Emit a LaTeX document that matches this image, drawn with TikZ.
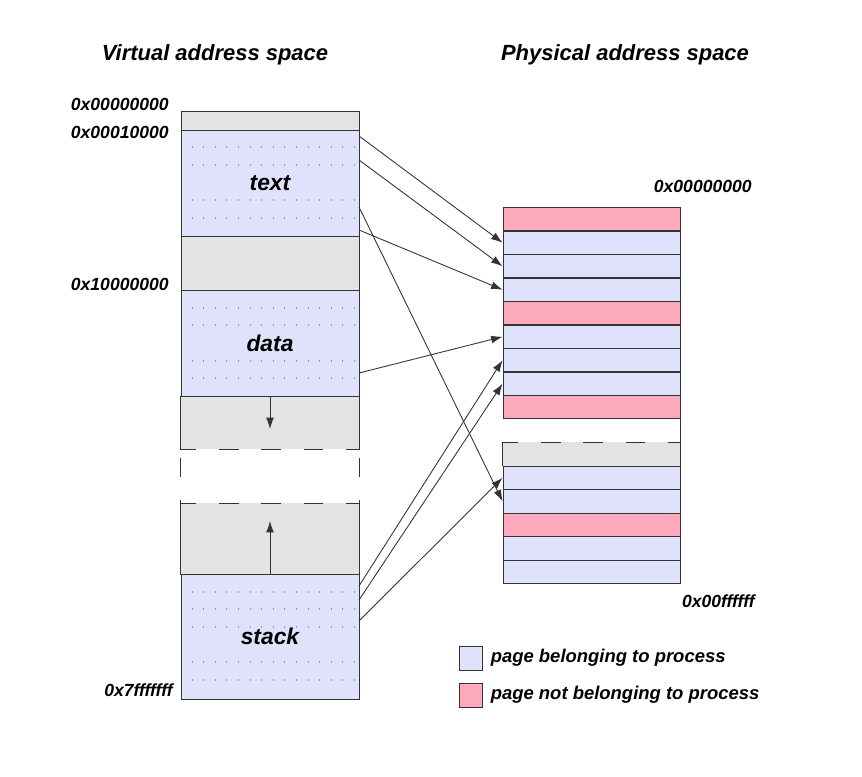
\documentclass[tikz,border=0pt]{standalone}
\usepackage{fontspec}
\setmainfont{Liberation Sans}
\usetikzlibrary{arrows.meta,positioning}
\definecolor{PageOwn}{HTML}{E0E2FB}
\definecolor{PageOther}{HTML}{FDAABC}
\definecolor{PageFree}{HTML}{E3E3E3}
\definecolor{PageLine}{HTML}{333333}
\definecolor{DotGrey}{HTML}{9A9AA8}

\begin{document}
\begin{tikzpicture}[x=0.02cm,y=-0.02cm]
    \tikzset{hexlbl/.style={font=\fontsize{10}{12}\selectfont\bfseries\itshape,inner sep=0pt},
      title/.style={font=\fontsize{12.5}{15}\selectfont\bfseries\itshape,inner sep=0pt},
      seglbl/.style={font=\fontsize{13}{15}\selectfont\bfseries\itshape,inner sep=0pt},
      vseg/.style={draw=PageLine,line width=0.55pt,minimum width=3.56cm,inner sep=0pt,anchor=north},
      ppage/.style={draw=PageLine,line width=0.55pt,minimum width=3.54cm,minimum height=0.47cm,inner sep=0pt,anchor=north},
      hole/.style={line width=0.55pt,dash pattern=on 11pt off 13pt,dash phase=2pt},
      holeside/.style={line width=0.55pt,dash pattern=on 11pt off 13pt,dash phase=19.5pt},
      dotrow/.style={DotGrey,line width=0.6pt,dash pattern=on 0.6pt off 6pt,dash phase=-6pt},
      map/.style={-{Latex[length=6.5pt,width=4.5pt]},line width=0.5pt,PageLine}}
    \useasboundingbox (0,0) rectangle (862,777);

    % titles
    \node[title] (vtitle) at (215,55) {Virtual address space};
    \node[title] (ptitle) at (625,55) {Physical address space};

    % virtual address space
    \node[vseg,fill=PageFree,minimum height=0.38cm] (vlow) at (270,111) {};
    \node[vseg,fill=PageOwn,minimum height=2.12cm] (vtext) at (270,130) {};
    \node[vseg,fill=PageFree,minimum height=1.08cm] (vmid) at (270,236) {};
    \node[vseg,fill=PageOwn,minimum height=2.12cm] (vdata) at (270,290) {};
    \node[vseg,draw=none,fill=PageFree,minimum height=1.06cm] (vheap) at (270,396) {};
    \node[vseg,draw=none,fill=PageFree,minimum height=1.42cm] (vfree) at (270,503) {};
    \node[vseg,fill=PageOwn,minimum height=2.5cm] (vstack) at (270,574) {};
    \draw[PageLine,line width=0.55pt] (vheap.south west) -- (vheap.north west) -- (vheap.north east) -- (vheap.south east)
      (vfree.north west) -- (vfree.south west) (vfree.north east) -- (vfree.south east);
    \draw[PageLine,hole] (vheap.south west) -- (vheap.south east) (vfree.north west) -- (vfree.north east);
    \draw[PageLine,holeside] (vheap.south west) -- (vfree.north west) (vheap.south east) -- (vfree.north east);

    \foreach \y in {147,165,200,218,308,325,361,378,592,609,627,662,680}
      \draw[dotrow] (181,\y) -- (359,\y);

    \node[seglbl] (ltext) at (270,183) {text};
    \node[seglbl] (ldata) at (270,343) {data};
    \node[seglbl] (lstack) at (270,636) {stack};

    \draw[map] (vheap.north) -- ++(0,33);
    \draw[map] (vstack.north) -- ++(0,-53);

    \node[hexlbl,anchor=east] (h0) at (169,104) {0x00000000};
    \node[hexlbl,anchor=east] (h1) at (169,132) {0x00010000};
    \node[hexlbl,anchor=east] (h2) at (169,284) {0x10000000};
    \node[hexlbl,anchor=east] (h3) at (173,690) {0x7fffffff};

    % physical address space
    \foreach \c [count=\i] in {PageOther,PageOwn,PageOwn,PageOwn,PageOther,PageOwn,PageOwn,PageOwn,PageOther}
      \node[ppage,fill=\c] (p\i) at (591.5,{207+(\i-1)*23.5}) {};
    \foreach \c [count=\i from 12] in {PageOwn,PageOwn,PageOther,PageOwn,PageOwn}
      \node[ppage,fill=\c] (p\i) at (591.5,{207+(\i-1)*23.5}) {};
    \node[ppage,draw=none,fill=PageFree] (p11) at (591.5,{207+10*23.5}) {};
    \draw[PageLine,line width=0.55pt] (p11.north west) -- (p11.south west) (p9.south east) -- (p11.south east);
    \draw[PageLine,hole] (p11.north west) -- (p11.north east);

    \node[hexlbl,anchor=east] (ptop) at (752,186) {0x00000000};
    \node[hexlbl,anchor=east] (pbot) at (755,601) {0x00ffffff};

    % mappings
    \coordinate (m1) at (359,136);
    \coordinate (m2) at (359,160);
    \coordinate (m3) at (359,207);
    \coordinate (m4) at (359,230);
    \coordinate (m5) at (359,373);
    \coordinate (m6) at (359,586);
    \coordinate (m7) at (359,600);
    \coordinate (m8) at (359,621);
    \draw[map] (m1) -- (p2.west);
    \draw[map] (m2) -- (p3.west);
    \draw[map] (m3) -- (p13.west);
    \draw[map] (m4) -- (p4.west);
    \draw[map] (m5) -- (p6.west);
    \draw[map] (m6) -- (p7.west);
    \draw[map] (m7) -- (p8.west);
    \draw[map] (m8) -- (p12.west);

    % legend
    \node[ppage,anchor=center,minimum width=0.46cm,minimum height=0.48cm,fill=PageOwn] (kown) at (470.5,658) {};
    \node[ppage,anchor=center,minimum width=0.46cm,minimum height=0.48cm,fill=PageOther] (kother) at (470.5,695) {};
    \node[hexlbl,font=\fontsize{10.5}{12}\selectfont\bfseries\itshape,right=8pt*0.567 of kown] (lown) {page belonging to process};
    \node[hexlbl,font=\fontsize{10.5}{12}\selectfont\bfseries\itshape,anchor=west] (lother) at (kother.east -| lown.west) {page not belonging to process};
  \end{tikzpicture}
\end{document}
